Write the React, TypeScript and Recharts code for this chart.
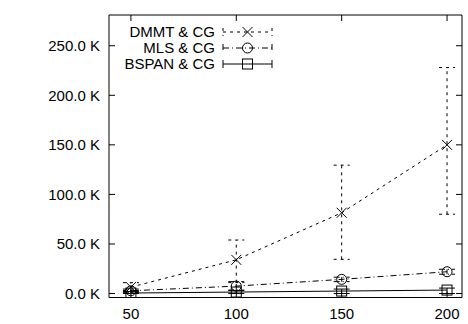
import React from "react";
import {
  ComposedChart,
  Line,
  XAxis,
  YAxis,
  ErrorBar,
} from "recharts";

const sizes = [50, 100, 150, 200];
const xTicks = [50, 100, 150, 200];
const yTicks = [0, 50000, 100000, 150000, 200000, 250000];

const seriesNames = ["DMMT & CG", "MLS & CG", "BSPAN & CG"];

const dmmtMean = [6500, 34000, 81500, 150000];
const dmmtLow = [3000, 11000, 34500, 80000];
const dmmtHigh = [11000, 54000, 129500, 228000];

const mlsMean = [2800, 7500, 14300, 22000];
const mlsLow = [1200, 3500, 12000, 19500];
const mlsHigh = [4500, 12000, 16500, 24500];

const bspanMean = [500, 1500, 2500, 3500];
const bspanLow = [0, 0, 0, 0];
const bspanHigh = [2000, 3000, 4500, 5500];

const data = sizes.map((x, i) => ({
  x,
  dmmt: dmmtMean[i],
  dmmtErr: [dmmtMean[i] - dmmtLow[i], dmmtHigh[i] - dmmtMean[i]],
  mls: mlsMean[i],
  mlsErr: [mlsMean[i] - mlsLow[i], mlsHigh[i] - mlsMean[i]],
  bspan: bspanMean[i],
  bspanErr: [bspanMean[i] - bspanLow[i], bspanHigh[i] - bspanMean[i]],
}));

const FONT = "'Liberation Sans', Arial, Helvetica, sans-serif";
const FS = 15;
const TICK = 6;
const DASH = ["3 4", "6 3 1 3", "none"];

const markCross = (cx: number, cy: number) => (
  <path
    d={`M${cx - 5},${cy - 5}L${cx + 5},${cy + 5}M${cx - 5},${cy + 5}L${cx + 5},${cy - 5}`}
    stroke="#000"
    strokeWidth={1}
    fill="none"
  />
);
const markCircle = (cx: number, cy: number) => (
  <circle cx={cx} cy={cy} r={5} stroke="#000" strokeWidth={1} fill="none" />
);
const markSquare = (cx: number, cy: number) => (
  <rect x={cx - 5} y={cy - 5} width={10} height={10} stroke="#000" strokeWidth={1} fill="none" />
);
const markers = [markCross, markCircle, markSquare];

const dotFor = (k: number) => (p: any) => (
  <g key={`d${k}-${p.index}`}>{p.cx != null && p.cy != null ? markers[k](p.cx, p.cy) : null}</g>
);

const fmtK = (v: number) => `${(v / 1000).toFixed(1)} K`;

const LeftTick = (p: any) => (
  <g>
    <text x={p.x} y={p.y} dy="0.36em" textAnchor="end" fontFamily={FONT} fontSize={FS} fill="#000">
      {fmtK(p.payload.value)}
    </text>
    <line x1={p.x + 9} x2={p.x + 9 + TICK} y1={p.y} y2={p.y} stroke="#000" />
  </g>
);
const RightTick = (p: any) => (
  <line x1={p.x - TICK} x2={p.x} y1={p.y} y2={p.y} stroke="#000" />
);
const BottomTick = (p: any) => (
  <g>
    <text x={p.x} y={p.y} dy="0.75em" textAnchor="middle" fontFamily={FONT} fontSize={FS} fill="#000">
      {p.payload.value}
    </text>
    <line x1={p.x} x2={p.x} y1={p.y - 10} y2={p.y - 10 - TICK} stroke="#000" />
  </g>
);
const TopTick = (p: any) => (
  <line x1={p.x} x2={p.x} y1={p.y} y2={p.y + TICK} stroke="#000" />
);

const KeyBox = () => (
  <svg width={200} height={80} style={{ position: "absolute", left: 100, top: 0 }}>
    {seriesNames.map((name, i) => {
      const y = 32 + i * 16;
      return (
        <g key={name}>
          <text x={115} y={y} dy="0.36em" textAnchor="end" fontFamily={FONT} fontSize={FS} fill="#000">
            {name}
          </text>
          <path
            d={`M123,${y}L172,${y}M123,${y - 4}L123,${y + 4}M172,${y - 4}L172,${y + 4}`}
            stroke="#000"
            strokeWidth={1}
            strokeDasharray={DASH[i]}
            fill="none"
          />
          {markers[i](147.5, y)}
        </g>
      );
    })}
  </svg>
);

export default function App() {
  return (
    <div style={{ position: "absolute", left: 0, top: 0, width: 468, height: 324, background: "#fff" }}>
      <ComposedChart
        width={468}
        height={324}
        data={data}
        margin={{ top: 14, right: 5, bottom: 0, left: 0 }}
      >
        <XAxis
          dataKey="x"
          type="number"
          domain={[39.6, 207.1]}
          ticks={xTicks}
          allowDataOverflow
          height={26.5}
          tickSize={0}
          tickMargin={10}
          tickLine={false}
          axisLine={{ stroke: "#000" }}
          tick={BottomTick}
        />
        <XAxis
          xAxisId="top"
          dataKey="x"
          type="number"
          orientation="top"
          domain={[39.6, 207.1]}
          ticks={xTicks}
          allowDataOverflow
          height={1}
          tickSize={0}
          tickMargin={0}
          tickLine={false}
          axisLine={{ stroke: "#000" }}
          tick={TopTick}
        />
        <YAxis
          type="number"
          domain={[-4000, 281000]}
          ticks={yTicks}
          allowDataOverflow
          width={109}
          tickSize={0}
          tickMargin={9}
          tickLine={false}
          axisLine={{ stroke: "#000" }}
          tick={LeftTick}
        />
        <YAxis
          yAxisId="right"
          type="number"
          orientation="right"
          domain={[-4000, 281000]}
          ticks={yTicks}
          allowDataOverflow
          width={1}
          tickSize={0}
          tickMargin={0}
          tickLine={false}
          axisLine={{ stroke: "#000" }}
          tick={RightTick}
        />
        <Line
          dataKey="bspan"
          stroke="#000"
          strokeWidth={1}
          dot={dotFor(2)}
          isAnimationActive={false}
        >
          <ErrorBar dataKey="bspanErr" direction="y" width={8} stroke="#000" strokeWidth={1} />
        </Line>
        <Line
          dataKey="mls"
          stroke="#000"
          strokeWidth={1}
          strokeDasharray={DASH[1]}
          dot={dotFor(1)}
          isAnimationActive={false}
        >
          <ErrorBar dataKey="mlsErr" direction="y" width={8} stroke="#000" strokeWidth={1} strokeDasharray={DASH[1]} />
        </Line>
        <Line
          dataKey="dmmt"
          stroke="#000"
          strokeWidth={1}
          strokeDasharray={DASH[0]}
          dot={dotFor(0)}
          isAnimationActive={false}
        >
          <ErrorBar dataKey="dmmtErr" direction="y" width={8} stroke="#000" strokeWidth={1} strokeDasharray={DASH[0]} />
        </Line>
      </ComposedChart>
      <KeyBox />
    </div>
  );
}
